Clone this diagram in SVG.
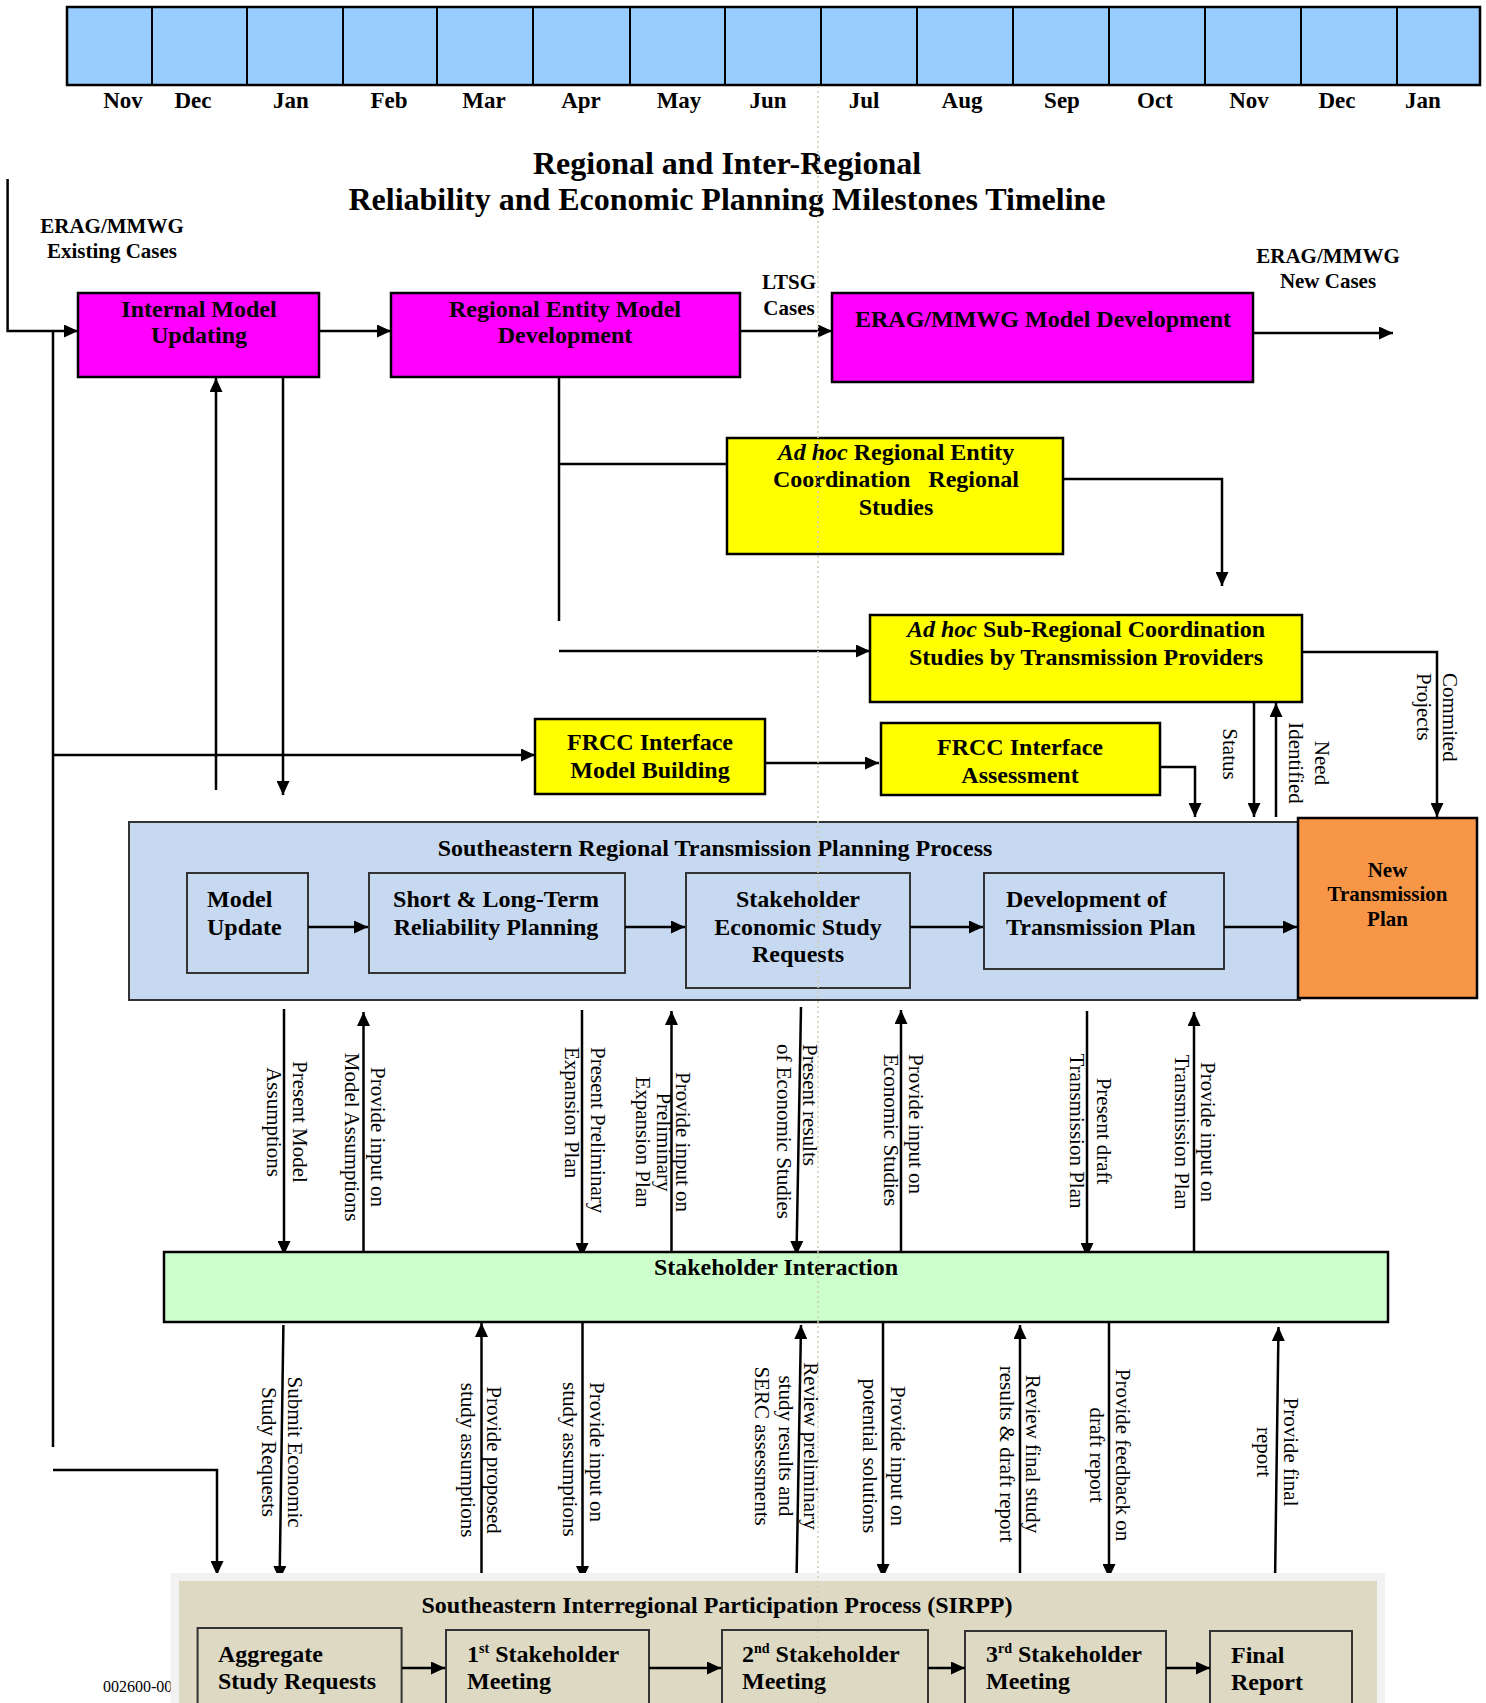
<svg xmlns="http://www.w3.org/2000/svg" width="1486" height="1703" viewBox="0 0 1486 1703">
<style>
text{font-family:"Liberation Serif","Times New Roman",serif;fill:#000}
.b{font-weight:bold;font-size:24px}
.c{text-anchor:middle}
.mo{font-weight:bold;font-size:23px;text-anchor:middle}
.lb{font-weight:bold;font-size:21px;text-anchor:middle}
.r{font-size:21px}
.bx{stroke:#000;stroke-width:2.5}
.ib{stroke:#333;stroke-width:2}
.ln{stroke:#000;stroke-width:2.5;fill:none}
.ar{stroke:#000;stroke-width:2.5;fill:none;marker-end:url(#ah)}
</style>
<defs>
<marker id="ah" markerUnits="userSpaceOnUse" markerWidth="14" markerHeight="13" refX="14" refY="6.5" orient="auto"><path d="M0,0L14,6.5L0,13z" fill="#000"/></marker>
</defs>
<rect width="1486" height="1703" fill="#fff"/>

<g id="timeline">
<rect x="67" y="7" width="1413" height="78" fill="#99ccff" class="bx"/>
<g stroke="#000" stroke-width="2">
<line x1="152" y1="7" x2="152" y2="85"/><line x1="247" y1="7" x2="247" y2="85"/><line x1="343" y1="7" x2="343" y2="85"/><line x1="437" y1="7" x2="437" y2="85"/><line x1="533" y1="7" x2="533" y2="85"/><line x1="630" y1="7" x2="630" y2="85"/><line x1="725" y1="7" x2="725" y2="85"/><line x1="821" y1="7" x2="821" y2="85"/><line x1="917" y1="7" x2="917" y2="85"/><line x1="1013" y1="7" x2="1013" y2="85"/><line x1="1109" y1="7" x2="1109" y2="85"/><line x1="1205" y1="7" x2="1205" y2="85"/><line x1="1301" y1="7" x2="1301" y2="85"/><line x1="1397" y1="7" x2="1397" y2="85"/>
</g>
<text class="mo" x="123" y="108">Nov</text><text class="mo" x="193" y="108">Dec</text><text class="mo" x="291" y="108">Jan</text><text class="mo" x="389" y="108">Feb</text><text class="mo" x="484" y="108">Mar</text><text class="mo" x="581" y="108">Apr</text><text class="mo" x="679" y="108">May</text><text class="mo" x="768" y="108">Jun</text><text class="mo" x="864" y="108">Jul</text><text class="mo" x="962" y="108">Aug</text><text class="mo" x="1062" y="108">Sep</text><text class="mo" x="1155" y="108">Oct</text><text class="mo" x="1249" y="108">Nov</text><text class="mo" x="1337" y="108">Dec</text><text class="mo" x="1423" y="108">Jan</text>
</g>

<g id="title">
<text class="c" font-weight="bold" font-size="32" x="727" y="174">Regional and Inter-Regional</text>
<text class="c" font-weight="bold" font-size="32" x="727" y="210">Reliability and Economic Planning Milestones Timeline</text>
</g>

<g id="side-labels">
<text class="lb" x="112" y="233">ERAG/MMWG</text><text class="lb" x="112" y="258">Existing Cases</text>
<text class="lb" x="789" y="289">LTSG</text><text class="lb" x="789" y="315">Cases</text>
<text class="lb" x="1328" y="263">ERAG/MMWG</text><text class="lb" x="1328" y="288">New Cases</text>
</g>

<g id="connectors">
<polyline class="ar" points="7.6,179 7.6,331 78,331"/>
<line class="ln" x1="53" y1="331" x2="53" y2="1447"/>
<line class="ar" x1="53" y1="755" x2="535" y2="755"/>
<polyline class="ar" points="53,1470 217,1470 217,1575"/>
<line class="ar" x1="319" y1="331" x2="391" y2="331"/>
<line class="ar" x1="740" y1="331" x2="832" y2="331"/>
<line class="ar" x1="1253" y1="333" x2="1393" y2="333"/>
<line class="ar" x1="216" y1="790" x2="216" y2="378"/>
<line class="ar" x1="283" y1="378" x2="283" y2="795"/>
<line class="ln" x1="559" y1="377" x2="559" y2="621"/>
<line class="ln" x1="559" y1="464" x2="727" y2="464"/>
<polyline class="ar" points="1063,479 1222,479 1222,586"/>
<line class="ar" x1="559" y1="651" x2="870" y2="651"/>
<polyline class="ar" points="1302,652 1437,652 1437,817"/>
<line class="ar" x1="1254" y1="702" x2="1254" y2="817"/>
<line class="ar" x1="1276" y1="817" x2="1276" y2="703"/>
<line class="ar" x1="765" y1="763" x2="879" y2="763"/>
<polyline class="ar" points="1160,767 1195,767 1195,817"/>
<line class="ar" x1="284" y1="1009" x2="284" y2="1255"/>
<line class="ar" x1="363.5" y1="1262" x2="363.5" y2="1012"/>
<line class="ar" x1="582" y1="1010" x2="582" y2="1257"/>
<line class="ar" x1="671.5" y1="1252" x2="671.5" y2="1011"/>
<line class="ar" x1="801" y1="1007" x2="796.5" y2="1255"/>
<line class="ar" x1="901" y1="1258" x2="901" y2="1010"/>
<line class="ar" x1="1087" y1="1011" x2="1087" y2="1257"/>
<line class="ar" x1="1194" y1="1261" x2="1194" y2="1012"/>
<line class="ar" x1="283.4" y1="1325" x2="279.6" y2="1580"/>
<line class="ar" x1="481.5" y1="1582" x2="481.5" y2="1323"/>
<line class="ar" x1="582.5" y1="1322" x2="582.5" y2="1580"/>
<line class="ar" x1="796.5" y1="1582" x2="801" y2="1325"/>
<line class="ar" x1="883" y1="1320" x2="883" y2="1578"/>
<line class="ar" x1="1020" y1="1583" x2="1020" y2="1325"/>
<line class="ar" x1="1109" y1="1320" x2="1109" y2="1578"/>
<line class="ar" x1="1275" y1="1583" x2="1278.5" y2="1327"/>
</g>

<g id="connector-labels">
<text class="r" text-anchor="start" transform="translate(1450,673) rotate(90)"><tspan x="0" y="7">Commited</tspan><tspan x="0" y="33">Projects</tspan></text>
<text class="r c" transform="translate(1230,754) rotate(90)"><tspan x="0" y="7">Status</tspan></text>
<text class="r c" transform="translate(1322,763) rotate(90)"><tspan x="0" y="7">Need</tspan><tspan x="0" y="33">Identified</tspan></text>

<text class="r c" transform="translate(299.5,1122) rotate(90)"><tspan x="0" y="7">Present Model</tspan><tspan x="0" y="33">Assumptions</tspan></text>
<text class="r c" transform="translate(377.7,1137) rotate(90)"><tspan x="0" y="7">Provide input on</tspan><tspan x="0" y="33">Model Assumptions</tspan></text>
<text class="r" transform="translate(598,1047) rotate(90)"><tspan x="0" y="7">Present Preliminary</tspan><tspan x="0" y="33">Expansion Plan</tspan></text>
<text class="r c" transform="translate(683,1142) rotate(90)"><tspan x="0" y="7">Provide input on</tspan><tspan x="0" y="26.5">Preliminary</tspan><tspan x="0" y="47">Expansion Plan</tspan></text>
<text class="r" transform="translate(810,1044) rotate(90)"><tspan x="0" y="7">Present results</tspan><tspan x="0" y="33">of Economic Studies</tspan></text>
<text class="r" transform="translate(916,1054) rotate(90)"><tspan x="0" y="7">Provide input on</tspan><tspan x="0" y="32">Economic Studies</tspan></text>
<text class="r c" transform="translate(1104,1131) rotate(90)"><tspan x="0" y="7">Present draft</tspan><tspan x="0" y="34">Transmission Plan</tspan></text>
<text class="r c" transform="translate(1208,1132) rotate(90)"><tspan x="0" y="7">Provide input on</tspan><tspan x="0" y="33">Transmission Plan</tspan></text>

<text class="r c" transform="translate(295,1452) rotate(90)"><tspan x="0" y="7">Submit Economic</tspan><tspan x="0" y="33">Study Requests</tspan></text>
<text class="r c" transform="translate(494,1460) rotate(90)"><tspan x="0" y="7">Provide proposed</tspan><tspan x="0" y="33">study assumptions</tspan></text>
<text class="r" transform="translate(597,1382) rotate(90)"><tspan x="0" y="7">Provide input on</tspan><tspan x="0" y="34.4">study assumptions</tspan></text>
<text class="r c" transform="translate(811,1446) rotate(90)"><tspan x="0" y="7">Review preliminary</tspan><tspan x="0" y="32">study results and</tspan><tspan x="0" y="56">SERC assessments</tspan></text>
<text class="r c" transform="translate(897.5,1456) rotate(90)"><tspan x="0" y="7">Provide input on</tspan><tspan x="0" y="35">potential solutions</tspan></text>
<text class="r c" transform="translate(1033,1454) rotate(90)"><tspan x="0" y="7">Review final study</tspan><tspan x="0" y="33">results &amp; draft report</tspan></text>
<text class="r c" transform="translate(1123,1455) rotate(90)"><tspan x="0" y="7">Provide feedback on</tspan><tspan x="0" y="33">draft report</tspan></text>
<text class="r c" transform="translate(1291,1452) rotate(90)"><tspan x="0" y="7">Provide final</tspan><tspan x="0" y="34">report</tspan></text>
</g>

<g id="internal-model-updating">
<rect x="78" y="293" width="241" height="84" fill="#ff00ff" class="bx"/>
<text class="b c" x="199" y="317">Internal Model</text><text class="b c" x="199" y="343">Updating</text>
</g>
<g id="regional-entity-model-development">
<rect x="391" y="293" width="349" height="84" fill="#ff00ff" class="bx"/>
<text class="b c" x="565" y="317">Regional Entity Model</text><text class="b c" x="565" y="343">Development</text>
</g>
<g id="erag-mmwg-model-development">
<rect x="832" y="293" width="421" height="89" fill="#ff00ff" class="bx"/>
<text class="b c" x="1043" y="327">ERAG/MMWG Model Development</text>
</g>
<g id="adhoc-regional-entity">
<rect x="727" y="438" width="336" height="116" fill="#ffff00" class="bx"/>
<text class="b c" x="896" y="460"><tspan font-style="italic">Ad hoc</tspan> Regional Entity</text>
<text class="b c" x="896" y="487">Coordination&#160;&#160; Regional</text>
<text class="b c" x="896" y="515">Studies</text>
</g>
<g id="adhoc-sub-regional">
<rect x="870" y="615" width="432" height="87" fill="#ffff00" class="bx"/>
<text class="b c" x="1086" y="637"><tspan font-style="italic">Ad hoc</tspan> Sub-Regional Coordination</text>
<text class="b c" x="1086" y="665">Studies by Transmission Providers</text>
</g>
<g id="frcc-model-building">
<rect x="535" y="719" width="230" height="75" fill="#ffff00" class="bx"/>
<text class="b c" x="650" y="750">FRCC Interface</text><text class="b c" x="650" y="778">Model Building</text>
</g>
<g id="frcc-assessment">
<rect x="881" y="723" width="279" height="72" fill="#ffff00" class="bx"/>
<text class="b c" x="1020" y="755">FRCC Interface</text><text class="b c" x="1020" y="783">Assessment</text>
</g>

<g id="srtpp">
<rect x="129" y="822" width="1171" height="178" fill="#c6d9f1" class="ib"/>
<text class="b c" x="715" y="856">Southeastern Regional Transmission Planning Process</text>
</g>
<g id="model-update">
<rect x="187" y="873" width="121" height="100" fill="#c6d9f1" class="ib"/>
<text class="b" x="207" y="907">Model</text><text class="b" x="207" y="935">Update</text>
</g>
<g id="short-long-term">
<rect x="369" y="873" width="256" height="100" fill="#c6d9f1" class="ib"/>
<text class="b c" x="496" y="907">Short &amp; Long-Term</text><text class="b c" x="496" y="935">Reliability Planning</text>
</g>
<g id="stakeholder-economic">
<rect x="686" y="873" width="224" height="115" fill="#c6d9f1" class="ib"/>
<text class="b c" x="798" y="907">Stakeholder</text><text class="b c" x="798" y="935">Economic Study</text><text class="b c" x="798" y="962">Requests</text>
</g>
<g id="development-tp">
<rect x="984" y="873" width="240" height="96" fill="#c6d9f1" class="ib"/>
<text class="b" x="1006" y="907">Development of</text><text class="b" x="1006" y="935">Transmission Plan</text>
</g>
<g id="new-transmission-plan">
<rect x="1298" y="818" width="179" height="180" fill="#f79646" class="bx"/>
<text class="lb" x="1387.5" y="877">New</text><text class="lb" x="1387.5" y="901">Transmission</text><text class="lb" x="1387.5" y="926">Plan</text>
</g>
<g id="srtpp-arrows">
<line class="ar" x1="308" y1="927" x2="368" y2="927"/>
<line class="ar" x1="625" y1="927" x2="685" y2="927"/>
<line class="ar" x1="910" y1="927" x2="983" y2="927"/>
<line class="ar" x1="1224" y1="927" x2="1297" y2="927"/>
</g>

<g id="stakeholder-interaction">
<rect x="164" y="1252" width="1224" height="70" fill="#ccffcc" class="bx"/>
<text class="b c" x="776" y="1275">Stakeholder Interaction</text>
</g>

<text x="103" y="1692" font-size="16">002600-00</text>

<g id="sirpp">
<rect x="170.5" y="1573" width="1214.5" height="140" fill="#f2f2f2"/>
<rect x="179" y="1581" width="1198" height="130" fill="#ddd9c3"/>
<text class="b c" x="717" y="1613">Southeastern Interregional Participation Process (SIRPP)</text>
</g>
<g id="aggregate">
<rect x="197.6" y="1628" width="204" height="90" fill="#ddd9c3" class="ib"/>
<text class="b" x="218" y="1662">Aggregate</text><text class="b" x="218" y="1689">Study Requests</text>
</g>
<g id="meeting-1">
<rect x="446" y="1630" width="203" height="90" fill="#ddd9c3" class="ib"/>
<text class="b" x="467" y="1662">1<tspan font-size="14" dy="-9">st</tspan><tspan dy="9"> Stakeholder</tspan></text><text class="b" x="467" y="1689">Meeting</text>
</g>
<g id="meeting-2">
<rect x="722" y="1630" width="206" height="90" fill="#ddd9c3" class="ib"/>
<text class="b" x="742" y="1662">2<tspan font-size="14" dy="-9">nd</tspan><tspan dy="9"> Stakeholder</tspan></text><text class="b" x="742" y="1689">Meeting</text>
</g>
<g id="meeting-3">
<rect x="965" y="1631" width="201" height="90" fill="#ddd9c3" class="ib"/>
<text class="b" x="986" y="1662">3<tspan font-size="14" dy="-9">rd</tspan><tspan dy="9"> Stakeholder</tspan></text><text class="b" x="986" y="1689">Meeting</text>
</g>
<g id="final-report">
<rect x="1210" y="1631" width="142" height="90" fill="#ddd9c3" class="ib"/>
<text class="b" x="1231" y="1663">Final</text><text class="b" x="1231" y="1690">Report</text>
</g>
<g id="sirpp-arrows">
<line class="ar" x1="402" y1="1668" x2="445" y2="1668"/>
<line class="ar" x1="649" y1="1668" x2="721" y2="1668"/>
<line class="ar" x1="928" y1="1668" x2="965" y2="1668"/>
<line class="ar" x1="1166" y1="1668" x2="1210" y2="1668"/>
</g>

<line x1="818" y1="86" x2="818" y2="1703" stroke="#d2ccae" stroke-width="1.5" stroke-dasharray="2 3"/>
</svg>
